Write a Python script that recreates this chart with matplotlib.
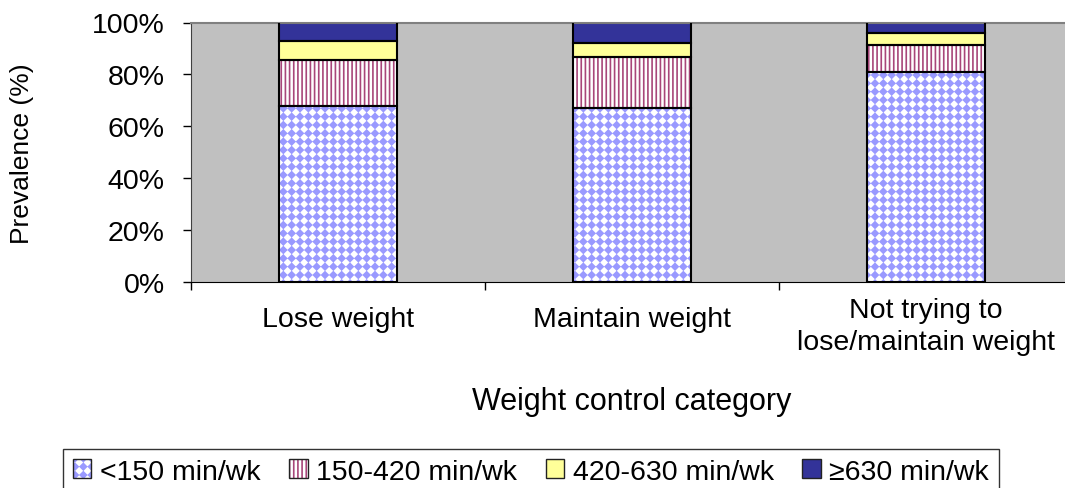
import numpy as np
import matplotlib
matplotlib.use("Agg")
import matplotlib.pyplot as plt
from matplotlib import hatch as mhatch
from matplotlib.path import Path
from matplotlib.patches import Patch
from matplotlib.legend_handler import HandlerTuple

# Data (percent of each weight control group)
categories = ["Lose weight", "Maintain weight", "Not trying to\nlose/maintain weight"]
series = ["<150 min/wk", "150-420 min/wk", "420-630 min/wk", "\u2265630 min/wk"]
lt150 = [67.9, 67.2, 81.1]
p150_420 = [17.7, 19.4, 10.2]
p420_630 = [7.1, 5.4, 4.5]
ge630 = [7.3, 8.0, 4.2]
y_ticks = [0, 20, 40, 60, 80, 100]


class DiamondDots(mhatch.HatchPatternBase):
    """ Filled diamonds on a square grid, used in place of the '.' hatch """

    def __init__(self, hatch, density):
        self.num_rows = hatch.count('.') * density
        if self.num_rows:
            self.num_vertices = 5 * (self.num_rows + 1) ** 2
        else:
            self.num_vertices = 0

    def set_vertices_and_codes(self, vertices, codes):
        n = self.num_rows
        h = 0.38 / n
        shape = np.array([[0, h], [h, 0], [0, -h], [-h, 0], [0, h]])
        c = np.linspace(0, 1, n + 1)
        cx, cy = np.meshgrid(c, c)
        centers = np.column_stack([cx.ravel(), cy.ravel()])
        vertices[:] = (centers[:, None, :] + shape[None, :, :]).reshape(-1, 2)
        one = np.full(5, Path.LINETO, dtype=Path.code_type)
        one[0] = Path.MOVETO
        one[-1] = Path.CLOSEPOLY
        codes[:] = np.tile(one, (n + 1) ** 2)


mhatch._hatch_types = [DiamondDots if t is mhatch.SmallFilledCircles else t
                       for t in mhatch._hatch_types]

plt.rcParams["font.family"] = ["Liberation Sans", "DejaVu Sans"]
plt.rcParams["hatch.linewidth"] = 1.2

fs = 20.5

fig = plt.figure(figsize=(10.65, 4.89), dpi=100)
ax = fig.add_axes([191 / 1065, 1 - 283 / 489, 882 / 1065, 259.5 / 489])
ax.set_facecolor("#C0C0C0")

x = np.arange(len(categories))
width = 0.4
layers = [lt150, p150_420, p420_630, ge630]
faces = ["white", "white", "#FFFF99", "#333399"]
hatch_cols = ["#9999FF", "#A8467A", "#FFFF99", "#333399"]
hatches = ["..", "||||", None, None]

bottom = np.zeros(len(categories))
handles = []
for vals, fc, hc, ht, lab in zip(layers, faces, hatch_cols, hatches, series):
    vals = np.array(vals)
    ax.bar(x, vals, width, bottom=bottom, facecolor=fc, edgecolor=hc,
           hatch=ht, linewidth=0, zorder=2)
    ax.bar(x, vals, width, bottom=bottom, fill=False, edgecolor="black",
           linewidth=1.5, zorder=3)
    bottom += vals
    handles.append((Patch(facecolor=fc, edgecolor=hc, hatch=ht, linewidth=0),
                    Patch(fill=False, edgecolor="#222222", linewidth=1.0)))

ax.set_xlim(-0.5, len(categories) - 0.5)
ax.set_ylim(0, 100)
ax.set_yticks(y_ticks)
ax.set_yticklabels([f"{v}%" for v in y_ticks])
ax.tick_params(axis="y", direction="out", length=6, width=1, pad=13,
               labelsize=fs, color="black")

# category boundaries get the tick marks, labels drawn as text
ax.set_xticks(np.arange(len(categories) + 1) - 0.5)
ax.set_xticklabels([])
ax.tick_params(axis="x", direction="out", length=6, width=1, color="black")

baseline_px = [44, 44, 67]  # baseline of last line below the axis
for xi, lab, off in zip(x, categories, baseline_px):
    ax.text(xi, -off / 259.5, lab, transform=ax.get_xaxis_transform(),
            ha="center", va="baseline", fontsize=fs, linespacing=1.3)

ax.set_xlabel("Weight control category", fontsize=22)
ax.xaxis.set_label_coords(0.5, -127 / 259.5)
ax.xaxis.label.set_va("baseline")
ax.set_ylabel("Prevalence (%)", fontsize=19)
ax.yaxis.set_label_coords(-169 / 882, 0.5)
ax.yaxis.label.set_va("center")

ax.spines["top"].set_color("#808080")
ax.spines["top"].set_linewidth(1.5)
ax.spines["left"].set_color("#404040")
ax.spines["bottom"].set_color("black")
ax.spines["right"].set_visible(False)

leg = fig.legend(handles, series, ncol=4, loc="upper left",
                 bbox_to_anchor=(63 / 1065, 1 - 450 / 489),
                 handler_map={tuple: HandlerTuple(ndivide=1, pad=0)},
                 fontsize=fs, frameon=True, fancybox=False, handlelength=0.65,
                 handleheight=0.65, handletextpad=0.3, columnspacing=1.0,
                 borderpad=0.35, borderaxespad=0)
leg.get_frame().set_edgecolor("black")
leg.get_frame().set_linewidth(1.0)

fig.savefig("out.png", dpi=100)
